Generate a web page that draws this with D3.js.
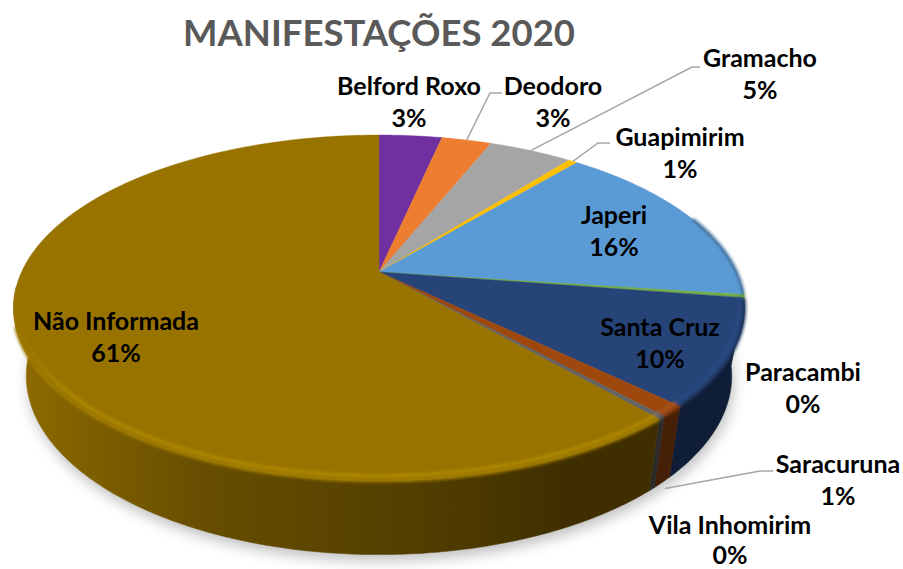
<!DOCTYPE html>
<html>
<head>
<meta charset="utf-8">
<script src="https://cdn.jsdelivr.net/npm/d3@7"></script>
<style>
  html, body { margin: 0; background: #fff; }
  text { font-family: Lato, "Open Sans", sans-serif; font-weight: 700; }
</style>
</head>
<body>
<div id="chart"></div>
<script>
// values (percent)
const categories = ["Belford Roxo", "Deodoro", "Gramacho", "Guapimirim", "Japeri", "Paracambi", "Santa Cruz", "Saracuruna", "Vila Inhomirim", "Não Informada"];
const values = [3.4, 2.7, 4.5, 0.5, 16.0, 0.3, 9.8, 1.0, 0.3, 61.5];
const percentLabels = ["3%", "3%", "5%", "1%", "16%", "0%", "10%", "1%", "0%", "61%"];
const topColors = ["#7030a0", "#ed7d31", "#a5a5a5", "#ffc000", "#5b9bd5", "#70ad47", "#264478", "#9e480e", "#636363", "#997300"];
const wallColors = ["#3a1854", "#7d4119", "#575757", "#866500", "#2f5170", "#3a5b25", "#0f1e36", "#451f06", "#2b2b2b", "url(#wallOlive)"];
const edgeColors = ["#7030a0", "#ed7d31", "#a5a5a5", "#ffc000", "#3f6c96", "#70ad47", "#1b3258", "#7a3609", "#444444", "#a07c00"];
const glowColors = ["none", "none", "none", "none", "none", "none", "#2a4a80", "#a8521a", "#707070", "url(#glowOlive)"];

const width = 903, height = 569;

// label anchors: centre x, baseline of the first line, line gap, optional leader elbow
const labelLayout = {
    "Belford Roxo": { x: 409, y: 95 },
    "Deodoro": { x: 553, y: 95, elbow: [[490, 93], [502, 93]] },
    "Gramacho": { x: 760, y: 67, elbow: [[692, 67], [700, 67]] },
    "Guapimirim": { x: 680, y: 146, elbow: [[598, 143], [610, 143]] },
    "Japeri": { x: 614, y: 224 },
    "Paracambi": { x: 803, y: 381 },
    "Santa Cruz": { x: 660, y: 336 },
    "Saracuruna": { x: 838, y: 473, elbow: [[760, 471], [773, 471]], onBase: true },
    "Vila Inhomirim": { x: 730, y: 534, gap: 30 },
    "Não Informada": { x: 116, y: 330 }
};

// the disc is a circle seen in perspective, k pulls the back edge in
const k = 0.208;
const topDisc = { cx: 379, cy: 272, a: 357.5, b: 165.5 };
const glowDisc = { cx: 379, cy: 272, a: 357.5 * 0.985, b: 165.5 * 0.975 };
const baseDisc = { cx: 379, cy: 338.7, a: 345, b: 171 };

function project(disc, angle) {
    let u = Math.sin(angle), v = Math.cos(angle);
    let w = 1 + k * v;
    return [disc.cx + disc.a * u / w, disc.cy - disc.b * v / w];
}

function arcPoints(disc, a0, a1) {
    let n = Math.max(2, Math.ceil(Math.abs(a1 - a0) / 0.01));
    return d3.range(n + 1).map(i => project(disc, a0 + (a1 - a0) * i / n));
}

const deg = Math.PI / 180;
const frontStart = 95 * deg, frontEnd = 265 * deg;
const rimStart = 70 * deg, rimEnd = 252 * deg;

const svg = d3.select("#chart").append("svg")
    .attr("width", width)
    .attr("height", height)
    .style("display", "block");

const defs = svg.append("defs");
defs.append("filter").attr("id", "softShadow")
    .attr("x", "-10%").attr("y", "-10%").attr("width", "120%").attr("height", "120%")
    .append("feGaussianBlur").attr("stdDeviation", 7);
defs.append("filter").attr("id", "softRim")
    .attr("x", "-5%").attr("y", "-5%").attr("width", "110%").attr("height", "110%")
    .append("feGaussianBlur").attr("stdDeviation", 1.5);

const wallGradient = defs.append("linearGradient").attr("id", "wallOlive")
    .attr("gradientUnits", "userSpaceOnUse")
    .attr("x1", 12).attr("x2", 660).attr("y1", 0).attr("y2", 0);
[[0, "#8f6c00"], [0.15, "#7a5c00"], [0.3, "#664d00"], [0.5, "#5a4400"], [0.7, "#4d3a00"], [0.85, "#3f2f00"], [1, "#3e2e00"]]
    .forEach(s => wallGradient.append("stop").attr("offset", s[0]).attr("stop-color", s[1]));

// the light band fades out towards the far left of the drum
const glowGradient = defs.append("linearGradient").attr("id", "glowOlive")
    .attr("gradientUnits", "userSpaceOnUse")
    .attr("x1", 14).attr("x2", 70).attr("y1", 0).attr("y2", 0);
glowGradient.append("stop").attr("offset", 0).attr("stop-color", "#997300");
glowGradient.append("stop").attr("offset", 1).attr("stop-color", "#b08c00");

const pie = d3.pie().sort(null).value(d => d)(values);
const line = d3.line();

// shadow under the drum
svg.append("path")
    .attr("d", line(arcPoints(baseDisc, 0, 2 * Math.PI)) + "Z")
    .attr("transform", "translate(2,6)")
    .attr("fill", "#000")
    .attr("opacity", 0.25)
    .attr("filter", "url(#softShadow)");

// side walls
svg.append("g").selectAll("path")
    .data(pie.filter(d => d.endAngle > frontStart && d.startAngle < frontEnd))
    .join("path")
    .attr("d", d => {
        let a0 = Math.max(d.startAngle, frontStart), a1 = Math.min(d.endAngle, frontEnd);
        return line(arcPoints(topDisc, a0, a1).concat(arcPoints(baseDisc, a1, a0))) + "Z";
    })
    .attr("fill", d => wallColors[d.index])
    .attr("stroke", d => wallColors[d.index])
    .attr("stroke-width", 0.5);

// top face
svg.append("g").selectAll("path")
    .data(pie)
    .join("path")
    .attr("d", d => line([[topDisc.cx, topDisc.cy]].concat(arcPoints(topDisc, d.startAngle, d.endAngle))) + "Z")
    .attr("fill", d => topColors[d.index])
    .attr("stroke", d => topColors[d.index])
    .attr("stroke-width", 0.4);

// soft edge between the top face and the wall
svg.append("g").attr("filter", "url(#softRim)").selectAll("path")
    .data(pie.filter(d => d.endAngle > rimStart))
    .join("path")
    .attr("d", d => line(arcPoints(topDisc, Math.max(d.startAngle, rimStart), Math.min(d.endAngle, rimEnd))))
    .attr("fill", "none")
    .attr("stroke", d => edgeColors[d.index])
    .attr("stroke-width", 3);

// light band just inside the edge
svg.append("g").attr("filter", "url(#softRim)").selectAll("path")
    .data(pie.filter(d => glowColors[d.index] !== "none"))
    .join("path")
    .attr("d", d => line(arcPoints(glowDisc, Math.max(d.startAngle, frontStart), Math.min(d.endAngle, rimEnd))))
    .attr("fill", "none")
    .attr("stroke", d => glowColors[d.index])
    .attr("stroke-width", 3);

// leader lines
svg.append("g").selectAll("path")
    .data(pie.filter(d => labelLayout[categories[d.index]].elbow))
    .join("path")
    .attr("d", d => {
        let layout = labelLayout[categories[d.index]];
        let mid = (d.startAngle + d.endAngle) / 2;
        let start = project(layout.onBase ? baseDisc : topDisc, mid);
        if (layout.onBase) start = [start[0] + 3, start[1] + 6];
        return line([start].concat(layout.elbow));
    })
    .attr("fill", "none")
    .attr("stroke", "#a6a6a6")
    .attr("stroke-width", 1.5);

// labels
const labels = svg.append("g").selectAll("text")
    .data(categories)
    .join("text")
    .attr("text-anchor", "middle")
    .attr("fill", "#000")
    .attr("font-size", 25);
labels.append("tspan")
    .attr("x", d => labelLayout[d].x)
    .attr("y", d => labelLayout[d].y)
    .text(d => d);
labels.append("tspan")
    .attr("x", d => labelLayout[d].x)
    .attr("y", d => labelLayout[d].y + (labelLayout[d].gap || 32))
    .text((d, i) => percentLabels[i]);

svg.append("text")
    .attr("x", 379)
    .attr("y", 46)
    .attr("text-anchor", "middle")
    .attr("fill", "#595959")
    .attr("font-size", 36.5)
    .text("MANIFESTAÇÕES 2020");
</script>
</body>
</html>
